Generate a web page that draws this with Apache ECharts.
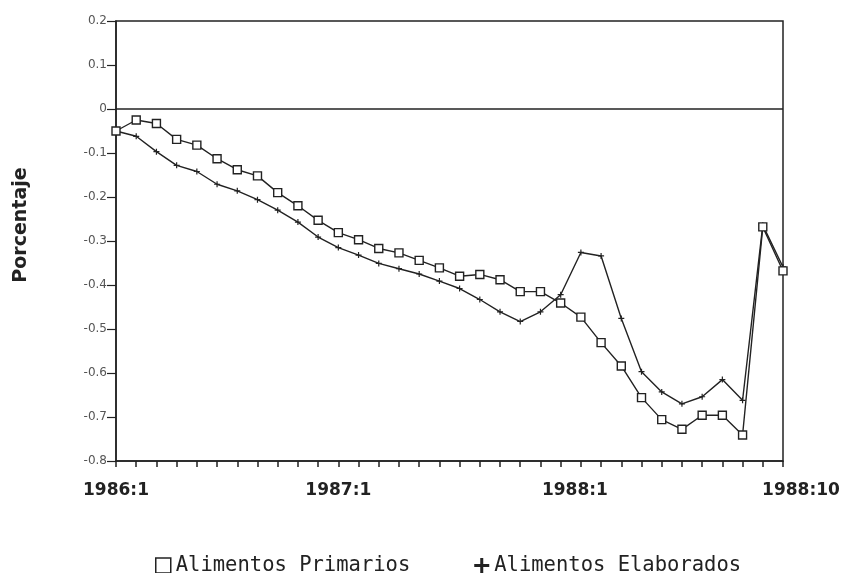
<!DOCTYPE html>
<html>
<head>
<meta charset="utf-8">
<title>Alimentos</title>
<script src="https://cdn.jsdelivr.net/npm/echarts@6/dist/echarts.min.js"></script>
<style>
  html, body { margin: 0; padding: 0; background: #fff; }
  #chart { width: 846px; height: 573px; }
</style>
</head>
<body>
<div id="chart"></div>
<script type="text/javascript">
// meses 1986:1 .. 1988:10
var months = [];
for (var y = 1986; y <= 1988; y++) {
    for (var m = 1; m <= 12; m++) {
        if (y === 1988 && m > 10) break;
        months.push(y + ':' + m);
    }
}

// etiquetas del eje x y su posicion (indice de categoria) como en el grafico
var tickLabels = ['1986:1', '1987:1', '1988:1', '1988:10'];
var tickIdx = [0, 11, 23, 33];

var primarios = [-0.050, -0.025, -0.033, -0.069, -0.082, -0.113, -0.138, -0.152,
    -0.190, -0.220, -0.253, -0.281, -0.297, -0.317, -0.327, -0.344, -0.361,
    -0.380, -0.376, -0.388, -0.415, -0.415, -0.441, -0.473, -0.531, -0.584,
    -0.656, -0.706, -0.728, -0.696, -0.696, -0.741, -0.268, -0.368];

var elaborados = [-0.050, -0.062, -0.097, -0.128, -0.142, -0.171, -0.186, -0.206,
    -0.230, -0.257, -0.291, -0.315, -0.332, -0.351, -0.363, -0.375, -0.391,
    -0.408, -0.433, -0.461, -0.483, -0.461, -0.422, -0.326, -0.334, -0.476,
    -0.597, -0.643, -0.670, -0.654, -0.615, -0.662, -0.264, -0.359];

var plus = 'path://M4,0H6V4H10V6H6V10H4V6H0V4H4Z';
var ink = '#222';

var option = {
    animation: false,
    grid: {
        left: 116, right: 63, top: 21, bottom: 112,
        show: true, borderColor: ink, borderWidth: 1.5
    },
    legend: {
        left: 150, top: 550,
        itemWidth: 15, itemHeight: 15, itemGap: 64,
        textStyle: { fontFamily: 'DejaVu Sans Mono', fontSize: 20.5, color: ink },
        data: [
            { name: 'Alimentos Primarios', icon: 'rect',
              itemStyle: { color: '#fff', borderColor: ink, borderWidth: 1.5 } },
            { name: 'Alimentos Elaborados', icon: plus,
              itemStyle: { color: ink, borderWidth: 0 } }
        ]
    },
    xAxis: {
        type: 'category',
        data: months,
        boundaryGap: false,
        axisLine: { onZero: false, lineStyle: { color: ink, width: 1.5 } },
        axisTick: { interval: 0, length: 6, lineStyle: { color: ink, width: 1.5 } },
        axisLabel: {
            interval: function (i) { return tickIdx.indexOf(i) >= 0; },
            formatter: function (v, i) {
                var k = tickIdx.indexOf(i);
                if (k === 3) return '{r|' + tickLabels[k] + '}';
                if (k === 2) return '{l|' + tickLabels[k] + '}';
                return tickLabels[k];
            },
            margin: 21,
            fontFamily: 'DejaVu Sans', fontWeight: 'bold', fontSize: 17, color: ink,
            rich: {
                r: { fontFamily: 'DejaVu Sans', fontWeight: 'bold', fontSize: 17, color: ink, padding: [0, 0, 0, 36] },
                l: { fontFamily: 'DejaVu Sans', fontWeight: 'bold', fontSize: 17, color: ink, padding: [0, 12, 0, 0] }
            }
        },
        splitLine: { show: false }
    },
    yAxis: {
        type: 'value',
        min: -0.8, max: 0.2, interval: 0.1,
        name: 'Porcentaje',
        nameLocation: 'middle',
        nameGap: 85,
        nameRotate: 90,
        nameTextStyle: {
            fontFamily: 'DejaVu Sans', fontWeight: 'bold', fontSize: 19, color: ink,
            padding: [0, 0, 0, 32]
        },
        axisLine: { show: true, lineStyle: { color: ink, width: 1.5 } },
        axisTick: { show: true, length: 9, lineStyle: { color: ink, width: 1.2 } },
        axisLabel: {
            margin: 9, fontFamily: 'DejaVu Sans', fontSize: 12, color: '#555',
            formatter: function (v) { return String(Math.round(v * 10) / 10); }
        },
        splitLine: { show: false }
    },
    series: [
        {
            name: 'Alimentos Primarios',
            type: 'line',
            data: primarios,
            symbol: 'rect',
            symbolSize: 8,
            showAllSymbol: true,
            lineStyle: { color: ink, width: 1.4 },
            itemStyle: { color: '#fff', borderColor: ink, borderWidth: 1.4 },
            z: 3,
            markLine: {
                silent: true,
                symbol: ['none', 'none'],
                label: { show: false },
                lineStyle: { color: ink, width: 1.5, type: 'solid' },
                data: [{ yAxis: 0 }]
            }
        },
        {
            name: 'Alimentos Elaborados',
            type: 'line',
            data: elaborados,
            symbol: plus,
            symbolSize: 6,
            showAllSymbol: true,
            lineStyle: { color: ink, width: 1.4 },
            itemStyle: { color: ink, borderWidth: 0 },
            z: 2
        }
    ]
};

var myChart = echarts.init(document.getElementById('chart'));
myChart.setOption(option, true);
</script>
</body>
</html>
